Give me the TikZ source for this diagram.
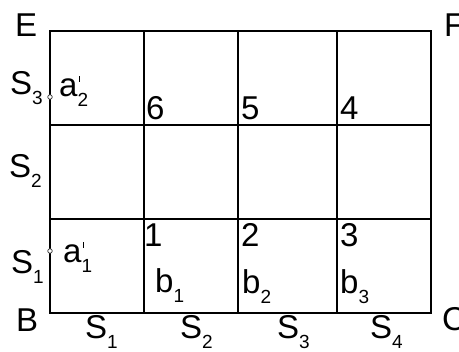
\documentclass[tikz,border=0pt]{standalone}
\usepackage{fontspec}
\setmainfont{Liberation Sans}
\newcommand{\lowsub}[1]{\raisebox{-10pt}{\fontsize{19}{19}\selectfont #1}}
\newcommand{\primesub}[1]{\rlap{\hspace{1.5pt}\raisebox{15pt}{\rule{1.2pt}{6pt}}}\lowsub{#1}}
\begin{document}
\begin{tikzpicture}[x=1pt,y=-1pt,
  lbl/.style={anchor=base west, inner sep=0pt, font=\fontsize{33}{33}\selectfont},
  gridline/.style={line width=1.2pt, line cap=rect},
  dotc/.style={circle, draw=black!80, fill=white, line width=0.7pt, minimum size=4.5pt, inner sep=0pt}]
\useasboundingbox (0,0) rectangle (459,352);
% grid corners
\coordinate (e) at (50,31);
\coordinate (f) at (431,31);
\coordinate (b) at (50,313);
\coordinate (c) at (431,313);
\coordinate (t1) at (144,31);  \coordinate (u1) at (144,313);
\coordinate (t2) at (238,31);  \coordinate (u2) at (238,313);
\coordinate (t3) at (337,31);  \coordinate (u3) at (337,313);
\coordinate (l1) at (50,125);  \coordinate (r1) at (431,125);
\coordinate (l2) at (50,219);  \coordinate (r2) at (431,219);
\draw[gridline] (e) rectangle (c);
\draw[gridline] (t1) -- (u1) (t2) -- (u2) (t3) -- (u3);
\draw[gridline] (l1) -- (r1) (l2) -- (r2);
% corner letters
\node[lbl] (le) at (15,37) {E};
\node[lbl] (lf) at (444,37) {F};
\node[lbl] (lb) at (16,332) {B};
\node[lbl] (lc) at (442,331) {C};
% left side
\node[lbl] (ls3) at (10,95) {S\lowsub{3}};
\node[lbl] (ls2) at (9,178) {S\lowsub{2}};
\node[lbl] (ls1) at (11,274) {S\lowsub{1}};
\node[dotc] (d2) at (50,97) {};
\node[dotc] (d1) at (50,251) {};
\node[lbl] (a2) at (59,97) {a\primesub{2}};
\node[lbl] (a1) at (63,263) {a\primesub{1}};
% numbers
\node[lbl] (n6) at (146,120) {6};
\node[lbl] (n5) at (241,120) {5};
\node[lbl] (n4) at (340,120) {4};
\node[lbl] (n1) at (144,247) {1};
\node[lbl] (n2) at (241,247) {2};
\node[lbl] (n3) at (340,247) {3};
\node[lbl] (b1) at (155,293) {b\lowsub{1}};
\node[lbl] (b2) at (242,294) {b\lowsub{2}};
\node[lbl] (b3) at (340,294) {b\lowsub{3}};
% bottom
\node[lbl] (bs1) at (85,339) {S\lowsub{1}};
\node[lbl] (bs2) at (180,339) {S\lowsub{2}};
\node[lbl] (bs3) at (277,339) {S\lowsub{3}};
\node[lbl] (bs4) at (370,339) {S\lowsub{4}};
\end{tikzpicture}
\end{document}
